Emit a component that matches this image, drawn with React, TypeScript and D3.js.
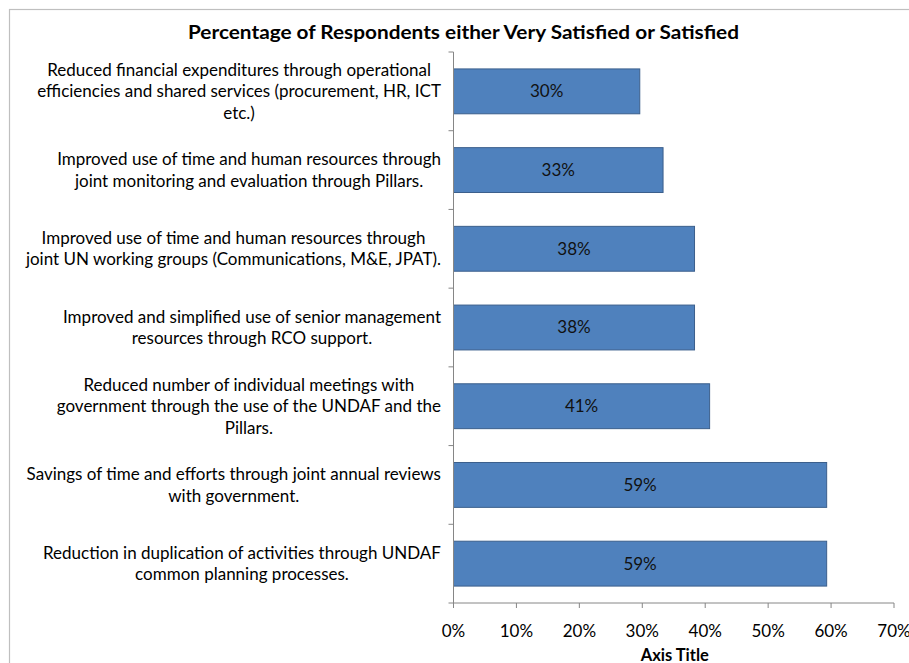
import React, { useEffect, useRef } from "react";
import * as d3 from "d3";

const categories: string[][] = [
  ["Reduced financial expenditures through operational", "efficiencies and shared services (procurement, HR, ICT", "etc.)"],
  ["Improved use of time and human resources through", "joint monitoring and evaluation through Pillars."],
  ["Improved use of time and human resources through", "joint UN working groups (Communications, M&E, JPAT)."],
  ["Improved and simplified use of senior management", "resources through RCO support."],
  ["Reduced number of individual meetings with", "government through the use of the UNDAF and the", "Pillars."],
  ["Savings of time and efforts through joint annual reviews", "with government."],
  ["Reduction in duplication of activities through UNDAF", "common planning processes."],
];
const values: number[] = [0.296, 0.333, 0.383, 0.383, 0.407, 0.593, 0.593];
const xTicks: number[] = [0, 0.1, 0.2, 0.3, 0.4, 0.5, 0.6, 0.7];
const title = "Percentage of Respondents either Very Satisfied or Satisfied";
const axisTitle = "Axis Title";

const W = 909;
const H = 663;
const FONT = "Lato, 'Open Sans', sans-serif";

export default function App() {
  const ref = useRef<SVGSVGElement>(null);
  useEffect(() => {
    const svg = d3.select(ref.current);
    svg.selectAll("*").remove();
    const left = 453.5, right = 894, top = 52, bottom = 603;
    const x = d3.scaleLinear().domain([0, 0.7]).range([left, right]);
    const y = d3.scaleBand<number>().domain(d3.range(categories.length)).range([top, bottom]).paddingInner(0.43).paddingOuter(0.215);

    svg.append("rect").attr("x", 9.5).attr("y", 9.5).attr("width", W + 20).attr("height", H + 20)
      .attr("fill", "white").attr("stroke", "#bfbfbf").attr("stroke-width", 1.2);

    svg.append("text").attr("x", 463.5).attr("y", 39).attr("text-anchor", "middle")
      .attr("font-family", FONT).attr("font-weight", "bold").attr("font-size", 19.5).attr("fill", "#000")
      .attr("textLength", 551).attr("lengthAdjust", "spacingAndGlyphs")
      .text(title);

    // bars
    svg.append("g").selectAll("rect").data(values).join("rect")
      .attr("x", x(0)).attr("y", (_, i) => y(i)!)
      .attr("width", d => x(d) - x(0)).attr("height", y.bandwidth())
      .attr("fill", "#4f81bd").attr("stroke", "#3b5f8c").attr("stroke-width", 1);

    svg.append("g").selectAll("text").data(values).join("text")
      .attr("x", d => (x(0) + x(d)) / 2).attr("y", (_, i) => y(i)! + y.bandwidth() / 2)
      .attr("dy", "0.35em").attr("text-anchor", "middle")
      .attr("font-family", FONT).attr("font-size", 17).attr("fill", "#111")
      .text(d => `${Math.round(d * 100)}%`);

    // axes
    const axisColor = "#868686";
    const g = svg.append("g");
    g.append("line").attr("x1", left).attr("x2", left).attr("y1", top).attr("y2", bottom).attr("stroke", axisColor);
    g.append("line").attr("x1", left).attr("x2", right).attr("y1", bottom).attr("y2", bottom).attr("stroke", axisColor);
    const step = (bottom - top) / categories.length;
    d3.range(categories.length + 1).forEach(i => {
      const yy = top + i * step;
      g.append("line").attr("x1", left - 5).attr("x2", left).attr("y1", yy).attr("y2", yy).attr("stroke", axisColor);
    });
    xTicks.forEach(t => {
      g.append("line").attr("x1", x(t)).attr("x2", x(t)).attr("y1", bottom).attr("y2", bottom + 5).attr("stroke", axisColor);
      g.append("text").attr("x", x(t)).attr("y", 631).attr("dy", "0.35em").attr("text-anchor", "middle")
        .attr("font-family", FONT).attr("font-size", 17).attr("fill", "#000").text(d3.format(".0%")(t));
    });
    svg.append("text").attr("x", (left + right) / 2 + 1).attr("y", 655).attr("dy", "0.35em").attr("text-anchor", "middle")
      .attr("font-family", FONT).attr("font-weight", "bold").attr("font-size", 16.5).attr("fill", "#000").text(axisTitle);

    // category labels
    const lineH = 21.5;
    const labelRight = 441;
    categories.forEach((lines, i) => {
      const cy = top + (i + 0.5) * step;
      const lg = svg.append("g");
      const texts = lines.map((ln, j) =>
        lg.append("text").attr("y", cy + (j - (lines.length - 1) / 2) * lineH).attr("dy", "0.35em")
          .attr("text-anchor", "middle").attr("font-family", FONT).attr("font-size", 17).attr("fill", "#000").text(ln)
      );
      const maxW = d3.max(texts, t => (t.node() as SVGTextElement).getComputedTextLength()) || 0;
      texts.forEach(t => t.attr("x", labelRight - maxW / 2));
    });
  }, []);
  return <svg ref={ref} width={W} height={H} style={{ position: "absolute", left: 0, top: 0 }} />;
}
